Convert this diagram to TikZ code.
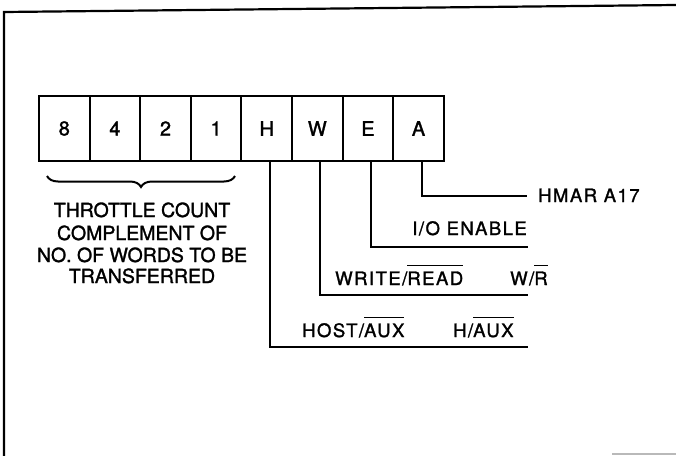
\documentclass[tikz,border=0pt]{standalone}
\usepackage{fontspec}
\setmainfont{TeX Gyre Heros}
% heavier face for all lettering, and a tracked one for the signal names
\newfontfamily\heavyfont{TeX Gyre Heros}[FakeBold=1.5]
\newfontfamily\trackfont{TeX Gyre Heros}[FakeBold=1.5, LetterSpace=8]
\usetikzlibrary{decorations.pathreplacing}
% overline for active-low signal names
\newcommand\ovl[1]{\vbox{\hrule height 1.5pt\kern 5.5pt\hbox{#1}}}
\tikzset{
  wire/.style={line width=2pt},
  cell/.style={draw, line width=2pt, minimum width=50.6pt, minimum height=65pt,
               inner sep=0pt, font=\heavyfont\fontsize{20}{24}\selectfont},
  note/.style={inner sep=0pt, font=\heavyfont\fontsize{19.5}{22}\selectfont},
  lbl/.style={inner sep=0pt, font=\trackfont\fontsize{18.5}{22}\selectfont},
}
\begin{document}
\begin{tikzpicture}[x=1pt, y=-1pt]
\useasboundingbox (0,0) rectangle (676,455);
% page frame
\draw[line width=2.2pt] (676,5) -- (4,12) -- (4,456);
\draw[line width=2pt, gray!55] (612,453.5) -- (676,453.5);

% register cells
\foreach \n/\t [count=\i from 0] in {c8/8, c4/4, c2/2, c1/1, ch/H, cw/W, ce/E, ca/A}
  \node[cell] (\n) at (64.3+50.6*\i, 128.5) {\t};

% brace under the count bits
\coordinate (bl) at (47,176);
\coordinate (br) at (235,176);
\draw[line width=2pt, decorate, decoration={brace, mirror, amplitude=11pt}] (bl) -- (br);

\node[note, anchor=base] (t1) at (142,217) {THROTTLE COUNT};
\node[note, anchor=base] (t2) at (142,240) {COMPLEMENT OF};
\node[note, anchor=base] (t3) at (142,262) {NO. OF WORDS TO BE};
\node[note, anchor=base] (t4) at (142,283) {TRANSFERRED};

% signal lines
\coordinate (ea) at (527,196);
\coordinate (ee) at (528,247);
\coordinate (ew) at (528,295);
\coordinate (eh) at (528,347);
\draw[wire] ([xshift=3.5pt]ca.south) |- (ea);
\draw[wire] ([xshift=3pt]ce.south) |- (ee);
\draw[wire] ([xshift=3pt]cw.south) |- (ew);
\draw[wire] ([xshift=3.5pt]ch.south) |- (eh);

% signal labels
\node[lbl, anchor=base west] (la) at (538,202) {HMAR A17};
\node[lbl, anchor=base east] (le) at (527,235) {I/O ENABLE};
\node[lbl, anchor=base west] (lw) at (335,285) {WRITE/\ovl{READ}};
\node[lbl, anchor=base west] (lw2) at (510,285) {W/\ovl{R}};
\node[lbl, anchor=base west] (lh) at (302,337) {HOST/\ovl{AUX}};
\node[lbl, anchor=base west] (lh2) at (453,337) {H/\ovl{AUX}};
\end{tikzpicture}
\end{document}
